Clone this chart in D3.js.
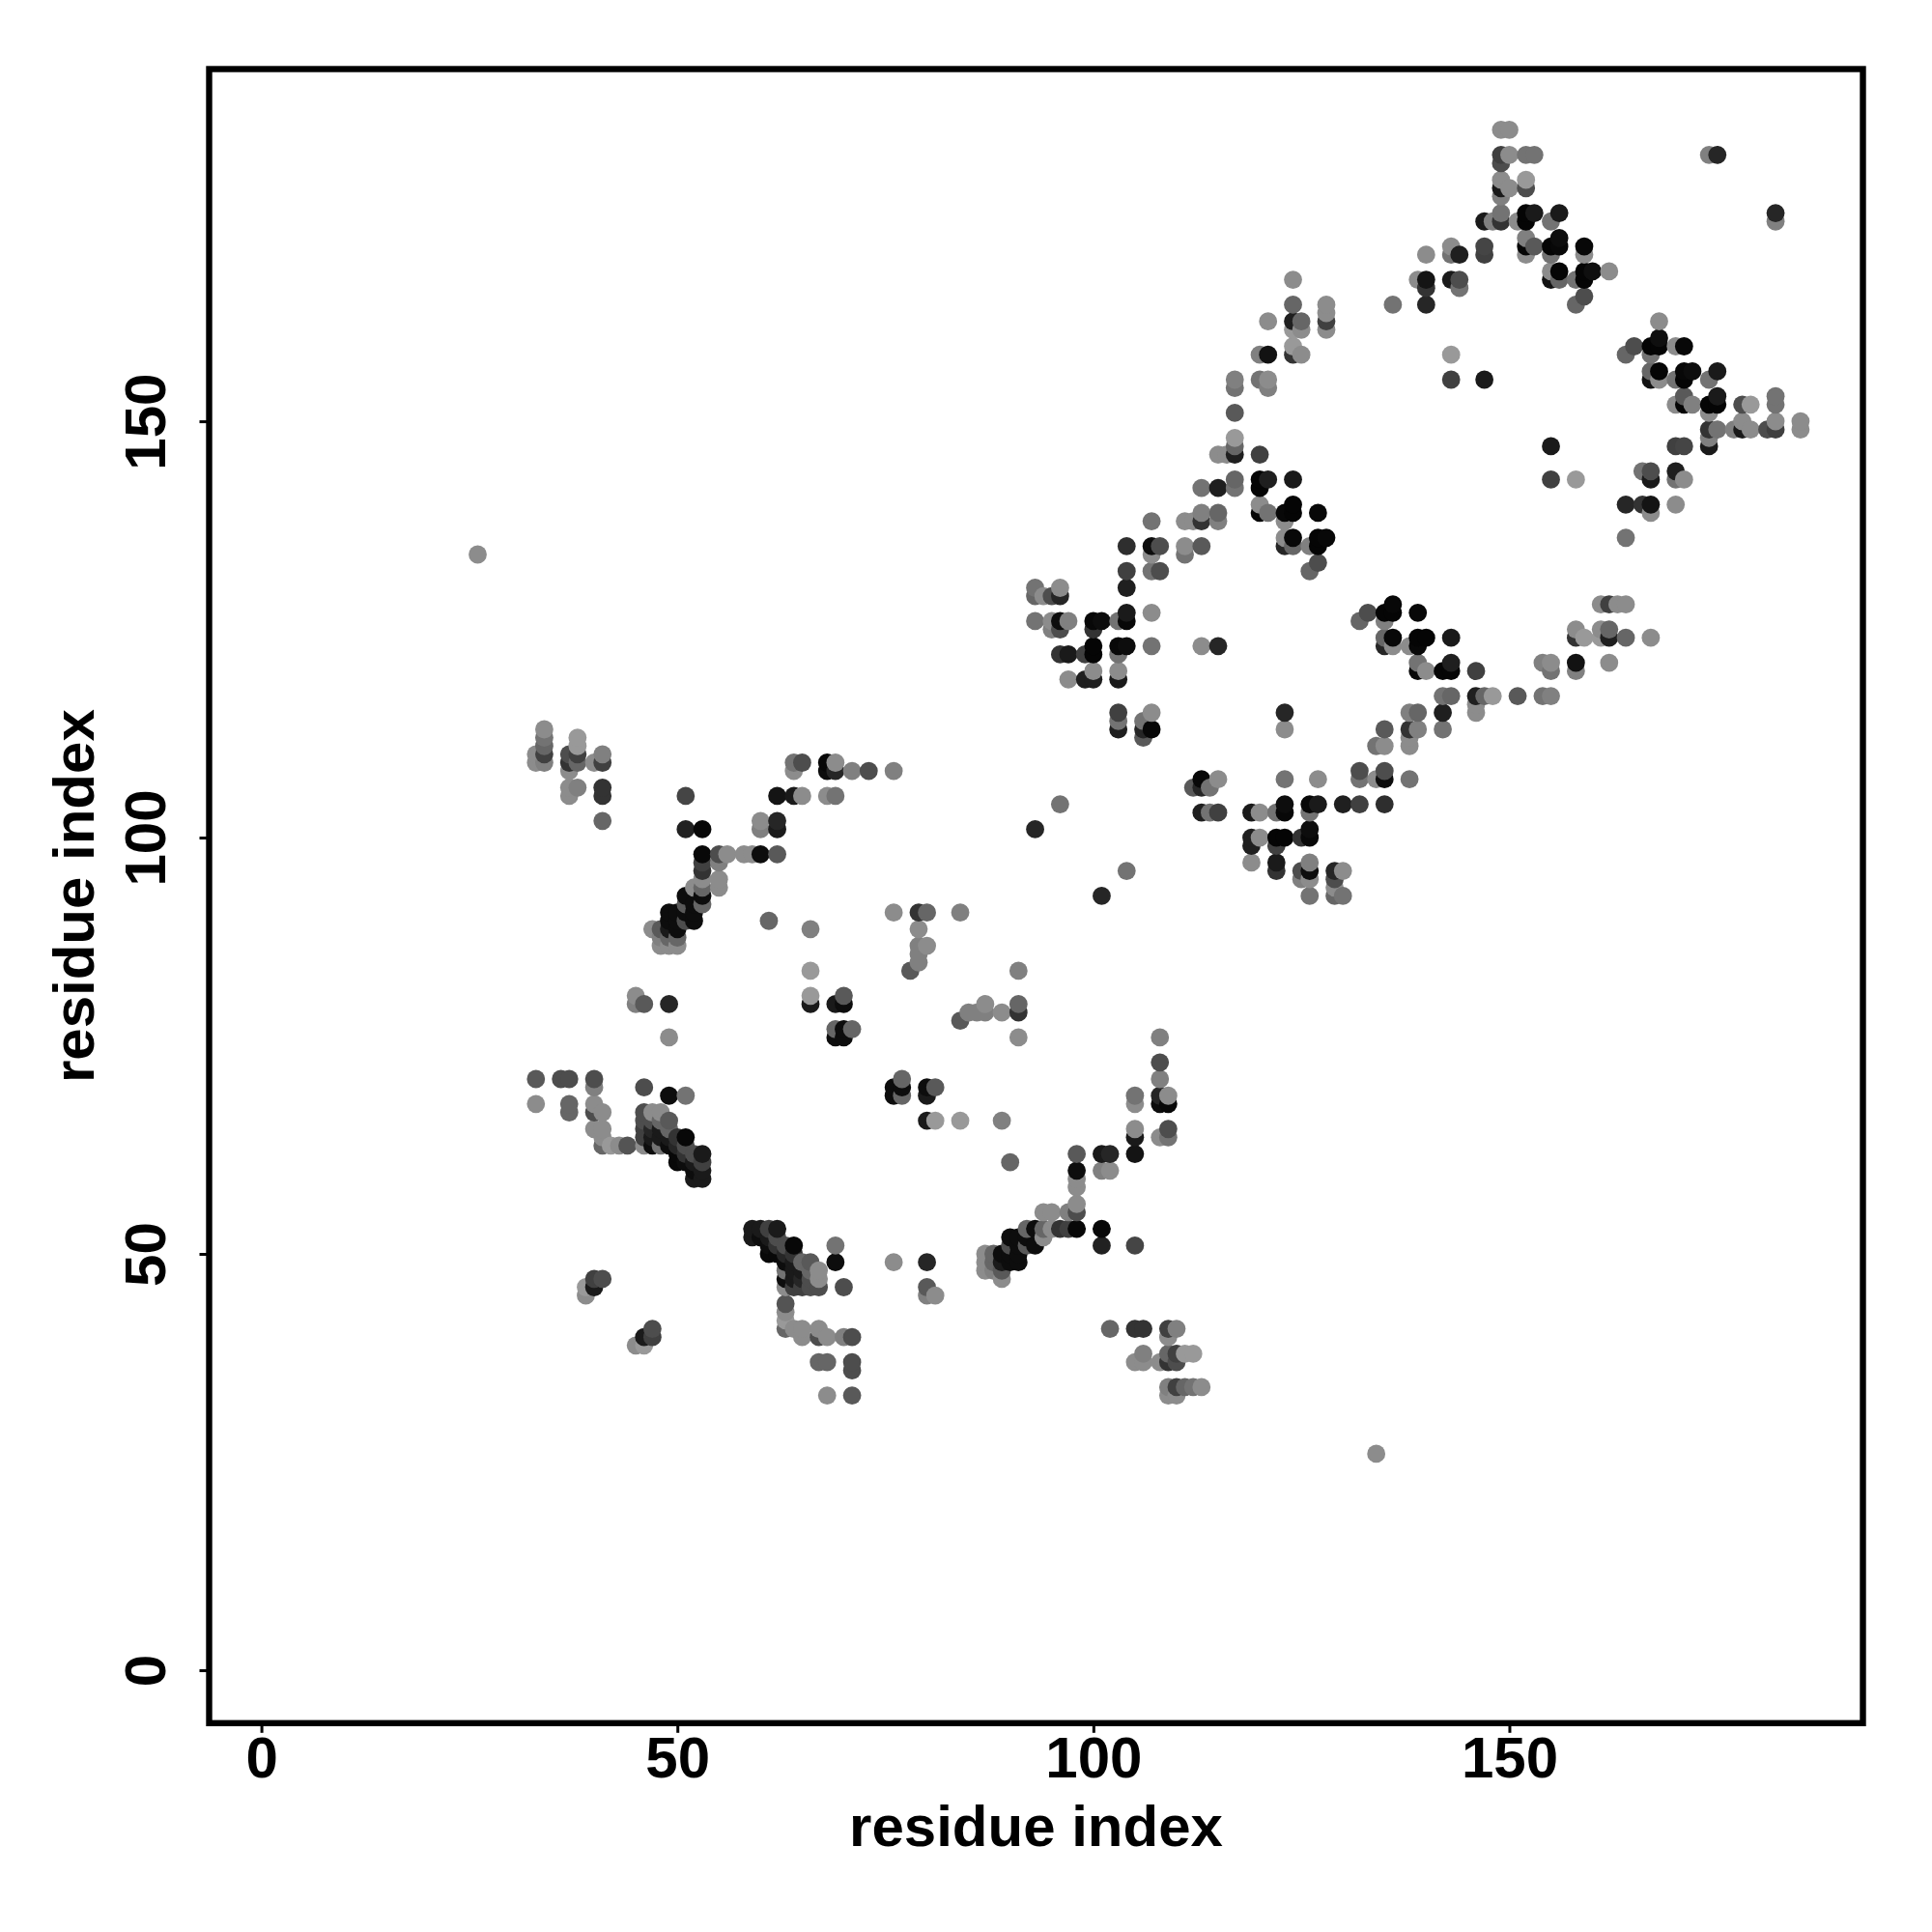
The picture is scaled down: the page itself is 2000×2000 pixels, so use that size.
<!DOCTYPE html>
<html>
<head>
<meta charset="utf-8">
<script src="https://cdn.jsdelivr.net/npm/d3@7"></script>
<style>
html,body{margin:0;padding:0;background:#fff}
svg{display:block}
text{font-family:"Liberation Sans",Arial,sans-serif;font-weight:700;fill:#000}
</style>
</head>
<body>
<svg id="chart" width="2000" height="2000"></svg>
<script>
// Contacts are [residue a, residue b, shade], a < b; shade is grey level in percent.
const tickValues = [0, 50, 100, 150];
const axisTitle = "residue index";

const contactsSheetA = [[26,134,55],[33,109,55],[33,110,55],[34,109,50],[34,110,25],[34,111,40],[34,112,45],[34,113,55],
[37,105,55],[37,106,55],[37,108,55],[37,109,20],[37,110,30],[38,106,50],[38,109,40],[38,110,25],[38,111,60],[38,112,60],
[40,109,55],[41,102,40],[41,105,20],[41,106,20],[41,109,25],[41,110,50]];

const contactsStrandA = [[47,89,55],[48,87,55],[48,88,50],[48,89,35],[49,87,55],[49,88,40],[49,89,10],[49,90,5],[49,91,5],
[50,87,55],[50,88,40],[50,89,5],[50,90,5],[50,91,5],[51,90,30],[51,91,5],[51,92,35],[51,93,5],[51,101,13],[51,105,27],
[52,90,5],[52,91,5],[52,92,5],[52,94,55],[53,92,40],[53,93,5],[53,94,40],[53,95,55],[53,96,20],[53,97,25],[53,98,3],[53,101,3],
[55,94,55],[55,95,55],[55,97,50],[55,98,30],[56,98,55],[58,98,55],[59,98,55],[60,98,5],[60,101,50],[60,102,55],[61,90,40],
[62,98,35],[62,101,10],[62,102,15],[62,105,8],[64,105,10],[64,108,55],[64,109,45],[65,105,55],[65,109,30],[68,105,55],
[68,108,5],[68,109,3],[69,105,45],[69,108,15],[69,109,55],[71,108,50],[73,108,30],[76,108,50]];

const contactsSheetB = [[33,68,55],[33,71,35],[36,71,30],[37,67,40],[37,68,40],[37,71,30],[39,45,55],[39,46,60],[40,46,10],[40,47,25],
[40,65,55],[40,67,30],[40,68,55],[40,70,50],[40,71,30],[41,47,30],[41,63,40],[41,64,55],[41,65,55],[41,67,55],[42,63,60],[43,63,55],[44,63,33],
[46,63,55],[46,64,25],[46,65,25],[46,66,30],[46,67,30],[46,70,30],[47,63,5],[47,64,10],[47,65,15],[47,66,30],[47,67,55],
[48,63,45],[48,64,10],[48,65,10],[48,66,40],[48,67,55],[49,63,5],[49,64,10],[49,65,40],[49,66,35],[49,69,5],
[50,61,3],[50,62,3],[50,63,15],[50,64,20],[51,61,5],[51,62,20],[51,63,30],[51,64,3],[51,69,45],
[52,59,10],[52,60,5],[52,61,10],[52,62,30],[53,59,10],[53,60,10],[53,61,25],[53,62,10]];

const contactsLoop = [[45,80,50],[45,81,55],[46,80,35],[49,76,55],[49,80,15],[66,80,10],[66,81,60],[66,84,60],[66,89,50],
[69,76,5],[69,77,40],[69,80,10],[70,76,5],[70,77,5],[70,80,5],[70,81,35],[71,77,40],[76,91,55],[78,84,35],
[79,85,50],[79,86,50],[79,87,50],[79,89,55],[79,91,20],[80,87,55],[80,91,40],[84,91,50]];

const contactsMiddle = [[93,101,15],[93,126,45],[93,129,40],[93,130,45],[94,129,55],[95,125,50],[95,126,55],[95,129,30],
[96,104,45],[96,122,20],[96,125,30],[96,126,5],[96,129,15],[96,130,55],[97,119,55],[97,122,10],[97,126,50],[99,119,12],[99,122,25],
[100,119,12],[100,120,55],[100,122,2],[100,123,2],[100,125,20],[100,126,3],[101,126,5],[103,113,12],[103,114,45],[103,115,25],
[103,119,10],[103,120,55],[103,122,45],[103,123,3],[103,126,45],[104,123,5],[104,126,3],[104,127,10],[104,130,12],[104,132,25],[104,135,18],
[106,112,35],[106,113,15],[106,114,45],[107,113,3],[107,115,55],[107,123,45],[107,127,55],[107,132,45],[107,134,55],[107,135,5],[107,138,45],
[108,132,30],[108,135,30],[111,134,45],[111,135,55],[111,138,55],[112,138,55],[113,123,55],[113,135,35],[113,138,20],[113,139,50],[113,142,45],
[115,123,15],[115,138,50],[115,139,40],[115,142,12],[115,146,55],[116,146,55],[117,142,45],[117,143,40],[117,146,12],[117,147,40],[117,148,60],
[117,151,35],[117,154,45],[117,155,50],[120,139,3],[120,140,55],[120,142,2],[120,143,2],[120,146,25],[120,155,45],[120,158,50],
[121,139,45],[121,143,12],[121,154,50],[121,155,55],[121,158,7],[121,162,55],[123,135,15],[123,136,55],[123,138,55],[123,139,3],
[124,135,40],[124,136,3],[124,139,2],[124,140,2],[124,143,10],[124,158,20],[124,159,60],[124,161,60],[124,162,12],[124,164,40],[124,167,55],
[125,158,55],[125,161,55],[125,162,40],[126,132,40],[126,135,50],[127,133,30],[127,135,2],[127,136,2],[127,139,3],[128,136,3],
[128,161,55],[128,162,25],[128,163,55],[128,164,55]];

const contactsTop = [[136,164,45],[139,167,55],[140,164,15],[140,166,20],[140,167,8],[140,170,55],[143,155,25],[143,158,60],[143,167,10],
[143,170,45],[143,171,55],[144,166,45],[144,167,30],[144,170,12],[147,155,10],[147,170,25],[147,171,27],[147,174,10],[148,174,50],
[149,174,20],[149,175,45],[149,177,50],[149,178,10],[149,179,55],[149,181,30],[149,182,25],[149,185,55],[150,178,55],[150,182,55],[150,185,55],
[151,174,55],[152,170,55],[152,171,2],[152,172,50],[152,174,2],[152,175,2],[152,178,30],[152,179,60],[152,182,45],[153,171,35],[153,175,10],[153,182,45],
[155,167,7],[155,168,55],[155,170,45],[155,171,2],[155,174,45],[156,167,40],[156,168,2],[156,171,3],[156,172,5],[156,175,10],
[158,164,40],[158,167,45],[159,165,30],[159,167,2],[159,168,2],[159,170,55],[159,171,3],[160,168,6],[162,168,55],[174,182,50],[175,182,15]];

const upperContacts = [].concat(contactsSheetA, contactsStrandA, contactsSheetB, contactsLoop, contactsMiddle, contactsTop);
// The map is symmetric: every contact appears at (a,b) and (b,a). Painted in x, then y order.
const points = upperContacts.flatMap(([a, b, s]) => [{x: a, y: b, s}, {x: b, y: a, s}])
  .sort((p, q) => d3.ascending(p.x, q.x) || d3.ascending(p.y, q.y));

const frame = {left: 216.5, right: 1928.5, top: 71.5, bottom: 1783.8};
const fontSize = 60;

const x = d3.scaleLinear().domain([-6.28, 192.5]).range([frame.left, frame.right]);
const y = d3.scaleLinear().domain([-6.36, 192.3]).range([frame.bottom, frame.top]);
const grey = d3.scaleLinear().domain([0, 100]).range(["#000000", "#ffffff"]);

const svg = d3.select("#chart");
svg.append("rect").attr("width", 2000).attr("height", 2000).attr("fill", "#fff");

svg.append("g").selectAll("circle").data(points).join("circle")
  .attr("cx", d => x(d.x)).attr("cy", d => y(d.y)).attr("r", 9.4)
  .attr("fill", d => grey(d.s));

const xAxis = svg.append("g").attr("transform", `translate(0,${frame.bottom})`)
  .call(d3.axisBottom(x).tickValues(tickValues).tickFormat(d3.format("d")).tickSize(10).tickPadding(0));
xAxis.select(".domain").remove();
xAxis.selectAll("line").attr("stroke", "#000").attr("stroke-width", 3);
xAxis.selectAll("text").attr("font-size", fontSize).attr("dy", null)
  .attr("y", 1840 - frame.bottom).attr("text-anchor", "middle");

const yAxis = svg.append("g").attr("transform", `translate(${frame.left},0)`)
  .call(d3.axisLeft(y).tickValues(tickValues).tickFormat(d3.format("d")).tickSize(10).tickPadding(0));
yAxis.select(".domain").remove();
yAxis.selectAll("line").attr("stroke", "#000").attr("stroke-width", 3);
yAxis.selectAll("text").attr("font-size", fontSize).attr("dy", null).attr("x", null).attr("y", null)
  .attr("text-anchor", "middle")
  .attr("transform", `translate(${171 - frame.left},0) rotate(-90)`);

svg.append("rect")
  .attr("x", frame.left).attr("y", frame.top)
  .attr("width", frame.right - frame.left).attr("height", frame.bottom - frame.top)
  .attr("fill", "none").attr("stroke", "#000").attr("stroke-width", 6.4);

svg.append("text").attr("x", (frame.left + frame.right) / 2).attr("y", 1911)
  .attr("text-anchor", "middle").attr("font-size", fontSize).text(axisTitle);
svg.append("text").attr("transform", `translate(97,${(frame.top + frame.bottom) / 2}) rotate(-90)`)
  .attr("text-anchor", "middle").attr("font-size", fontSize).text(axisTitle);
</script>
</body>
</html>
